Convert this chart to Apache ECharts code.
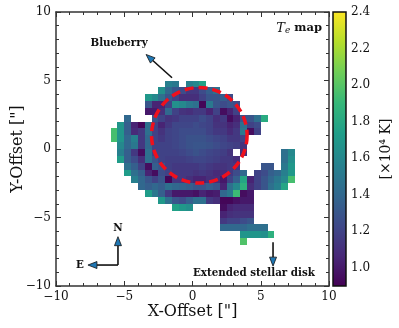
<!DOCTYPE html>
<html>
<head>
<meta charset="utf-8">
<style>html,body{margin:0;padding:0;background:#fff}#chart{width:399px;height:328px}</style>
<script src="https://cdn.jsdelivr.net/npm/echarts@6/dist/echarts.min.js"></script>
</head>
<body>
<div id="chart"></div>
<script>
// Te map, cells are 0.5" wide. Each row: y centre, left edge of first cell, temperatures
const n = null
const rowY = [4.75, 4.25, 3.75, 3.25, 2.75, 2.25, 1.75, 1.25, 0.75, 0.25, -0.25, -0.75, -1.25, -1.75, -2.25, -2.75, -3.25, -3.75, -4.25, -4.75, -5.25, -5.75, -6.25, -6.75]
const rowStart = [-2, -2.5, -3.5, -3.5, -3.5, -5, -5.5, -6, -6, -5.5, -5.5, -5.5, -5, -5, -4.5, -4, -3.5, -2.5, -1.5, 2, 2, 2, 3.5, 3.5]
const rowTemps = [
  [1.55, 1.5, n, 1.55, 1.6, 1.75],
  [1.65, 1.4, 1.3, 1.25, 1.15, 1.15, 1.25, 1.35, 1.45],
  [1.7, 1.6, 1.45, 1.3, 1.2, 1.1, 1.1, 1.1, 1.2, 1.3, 1.3, 1.35, 1.25],
  [1.3, 1.05, 1.05, 1.2, 1.65, 1.6, 1.5, 1.45, 0.92, 1.5, 1.3, 1.25, 1.3, 1.25],
  [1.0, 1.0, 1.1, 1.4, 1.2, 1.12, 1.1, 1.15, 1.15, 1.05, 1.2, 0.95, 1.05, 1.2],
  [1.4, n, n, n, 1.3, 1.2, 1.12, 1.15, 1.2, 1.2, 1.2, 1.25, 1.2, 1.1, 1.15, 0.95, 1.05, 1.3, 1.3, 1.45, 1.82],
  [1.68, 1.35, 1.05, 0.92, 1.45, 1.2, 1.05, 1.15, 1.22, 1.22, 1.22, 1.25, 1.22, 1.2, 1.12, 1.12, 1.05, 1.1, 1.45, 1.2, 1.25],
  [1.95, 1.68, 1.35, 1.08, 1.15, 1.45, 1.2, 1.12, 1.2, 1.22, 1.25, 1.25, 1.25, 1.25, 1.2, 1.15, 1.15, 1.08, 1.15, 1.5, 0.95, 1.2],
  [1.95, 1.68, 1.4, 1.55, 1.15, 1.4, 1.2, 1.15, 1.2, 1.22, 1.25, 1.28, 1.28, 1.28, 1.25, 1.22, 1.2, 1.15, 1.15, 1.2],
  [1.6, 1.4, 1.5, 1.15, 1.4, 1.2, 1.2, 1.2, 1.22, 1.25, 1.28, 1.3, 1.3, 1.28, 1.25, 1.22, 1.2, 1.18, 1.12],
  [1.55, 1.35, 1.15, 0.95, 1.45, 1.2, 1.2, 1.2, 1.2, 1.22, 1.25, 1.28, 1.25, 1.22, 1.2, 1.18, 1.12, n, 1.1, n, n, n, n, n, 1.45, 1.6],
  [1.72, 1.35, 1.25, 1.1, 1.45, 1.3, 1.2, 1.18, 1.18, 1.18, 1.2, 1.22, 1.22, 1.2, 1.18, 1.15, 1.15, 1.1, n, n, n, n, n, n, 1.45, 1.65],
  [1.45, 1.35, 1.2, 0.95, 1.35, 1.3, 1.18, 1.15, 1.15, 1.15, 1.15, 1.18, 1.15, 1.12, 1.12, 1.15, 1.15, n, n, n, 1.3, 1.3, n, 1.5, 1.7],
  [1.72, 1.45, 1.35, 1.05, 0.95, 1.25, 1.2, 1.15, 1.15, 1.15, 1.12, 1.15, 1.12, 1.08, 1.08, 1.15, 1.25, 1.4, n, 1.2, 1.25, 1.35, 1.4, 1.55, 1.7],
  [1.55, 1.4, 1.3, 1.2, 1.3, 0.92, 1.15, 1.15, 1.1, 1.05, 1.05, 1.1, 1.1, 1.0, 1.2, 1.35, 1.78, 1.05, 1.2, 1.3, 1.4, 1.5, 1.6, 1.95],
  [1.4, 1.35, 1.4, 1.35, 1.45, 1.4, 1.38, 1.35, 1.3, 1.3, 1.35, 1.3, 1.05, 1.45, 1.6, 1.85, 1.1, 1.2, 1.3, 1.45, 1.55, 1.78],
  [1.72, 1.5, 1.35, 1.15, 1.0, 1.0, 1.0, 0.97, 1.05, 1.0, 1.02, 1.4, 1.5, 1.92, 0.95, 1.0],
  [1.7, 1.45, 1.3, 1.25, 1.35, 1.45, 1.45, 1.15, 1.1, 0.92, 0.92, 0.97, 1.0, 1.0],
  [1.75, 1.7, 1.65, n, n, n, n, 0.95, 1.05, 1.08, 1.08, 1.08],
  [1.05, 1.1, 1.12, 1.12, 1.12],
  [1.15, 1.2, 1.2, 1.25, 1.3],
  [1.4, 1.4, 1.4, 1.4, 1.45, 1.45, 1.45],
  [1.68, 1.68, 1.68, 1.65, 1.85],
  [1.98]
]
const cellSize = 0.5

const viridis = ['#440154', '#482878', '#3e4989', '#31688e', '#26828e', '#1f9e89', '#35b779', '#6ece58', '#b5de2b', '#fde725']
const tempMin = 0.9
const tempMax = 2.4
const barTicks = [1.0, 1.2, 1.4, 1.6, 1.8, 2.0, 2.2, 2.4]

// x, y, radius of the dashed circle
const blueberry = [0.5, 1, 3.5]
// tail x, tail y, tip x, tip y
const arrows = [
  [-1.5, 5.2, -3.4, 6.9],
  [-5.46, -8.47, -5.46, -6.4],
  [-5.46, -8.47, -7.66, -8.47],
  [5.9, -6.8, 5.9, -8.55]
]
// x, y, text
const notes = [
  [-5.38, 7.74, 'Blueberry'],
  [-5.46, -5.77, 'N'],
  [-8.24, -8.47, 'E'],
  [4.5, -9.05, 'Extended stellar disk']
]

const serif = 'DejaVu Serif'
const cells = []
rowTemps.forEach((row, i) => {
  row.forEach((t, j) => {
    if (t !== n) cells.push([rowStart[i] + j * cellSize + cellSize / 2, rowY[i], t])
  })
})

function renderCell(params, api) {
  const x = api.value(0)
  const y = api.value(1)
  const a = api.coord([x - cellSize / 2, y + cellSize / 2])
  const b = api.coord([x + cellSize / 2, y - cellSize / 2])
  const left = Math.round(a[0])
  const top = Math.round(a[1])
  return {
    type: 'rect',
    shape: { x: left, y: top, width: Math.round(b[0]) - left, height: Math.round(b[1]) - top },
    style: { fill: api.visual('color') }
  }
}

function renderCircle(params, api) {
  const c = api.coord([api.value(0), api.value(1)])
  const r = api.size([api.value(2), 0])[0]
  return {
    type: 'circle',
    shape: { cx: c[0], cy: c[1], r: r },
    style: { fill: 'none', stroke: '#f0101c', lineWidth: 3.5, lineDash: [9, 5] }
  }
}

function renderArrow(params, api) {
  const p0 = api.coord([api.value(0), api.value(1)])
  const p1 = api.coord([api.value(2), api.value(3)])
  const dx = p1[0] - p0[0]
  const dy = p1[1] - p0[1]
  const len = Math.sqrt(dx * dx + dy * dy)
  const ux = dx / len
  const uy = dy / len
  const bx = p1[0] - ux * 9
  const by = p1[1] - uy * 9
  return {
    type: 'group',
    children: [
      { type: 'line', shape: { x1: p0[0], y1: p0[1], x2: bx, y2: by }, style: { stroke: '#111', lineWidth: 1.6 } },
      {
        type: 'polygon',
        shape: { points: [p1, [bx - uy * 3.5, by + ux * 3.5], [bx + uy * 3.5, by - ux * 3.5]] },
        style: { fill: '#1f77b4', stroke: '#111', lineWidth: 0.8 }
      }
    ]
  }
}

function renderNote(params, api) {
  const c = api.coord([api.value(0), api.value(1)])
  return {
    type: 'text',
    x: c[0],
    y: c[1],
    style: {
      text: api.value(2),
      font: 'bold 10.3px "DejaVu Serif"',
      fill: '#111',
      align: 'center',
      verticalAlign: 'middle'
    }
  }
}

function renderBar(params, api) {
  const a = api.coord([0, tempMax])
  const b = api.coord([1, tempMin])
  return {
    type: 'rect',
    shape: { x: a[0], y: a[1], width: b[0] - a[0], height: b[1] - a[1] },
    style: {
      fill: new echarts.graphic.LinearGradient(0, 1, 0, 0, viridis.map((c, i) => ({ offset: i / (viridis.length - 1), color: c }))),
      stroke: '#111',
      lineWidth: 1.5
    }
  }
}

function boxAxis(position, name, show) {
  return {
    type: 'value',
    position: position,
    min: -10,
    max: 10,
    interval: 5,
    name: name,
    nameLocation: 'middle',
    nameGap: position === 'left' ? 30 : 18,
    nameMoveOverlap: false,
    nameTextStyle: { fontFamily: serif, fontSize: 16, color: '#111' },
    axisLine: { show: true, onZero: false, lineStyle: { color: '#333', width: 1.5 } },
    axisTick: { show: true, inside: true, length: 5, lineStyle: { color: '#333', width: 1 } },
    minorTick: { show: true, splitNumber: 5, length: 3, lineStyle: { color: '#333', width: 1 } },
    splitLine: { show: false },
    minorSplitLine: { show: false },
    axisLabel: {
      show: show,
      margin: 5,
      fontFamily: serif,
      fontSize: 12,
      color: '#111',
      formatter: v => String(v).replace('-', '\u2212')
    }
  }
}

const chart = echarts.init(document.getElementById('chart'), null, { renderer: 'canvas' })
chart.setOption({
  animation: false,
  backgroundColor: '#fff',
  grid: [
    { left: 56, top: 12, width: 273, height: 274, outerBoundsMode: 'none' },
    { left: 333, top: 12, width: 13, height: 274, outerBoundsMode: 'none' }
  ],
  xAxis: [
    boxAxis('bottom', 'X-Offset ["]', true),
    boxAxis('top', '', false),
    { type: 'value', gridIndex: 1, min: 0, max: 1, show: false }
  ],
  yAxis: [
    boxAxis('left', 'Y-Offset ["]', true),
    boxAxis('right', '', false),
    {
      type: 'value',
      gridIndex: 1,
      position: 'right',
      min: tempMin,
      max: tempMax,
      name: '[\u00d710\u2074 K]',
      nameLocation: 'middle',
      nameRotate: 90,
      nameGap: 33,
      nameMoveOverlap: false,
      nameTextStyle: { fontFamily: serif, fontSize: 14, color: '#111' },
      splitLine: { show: false },
      axisLine: { show: false },
      axisTick: { show: true, length: 3, customValues: barTicks, lineStyle: { color: '#333', width: 1 } },
      axisLabel: {
        margin: 5,
        fontFamily: serif,
        fontSize: 12,
        color: '#111',
        customValues: barTicks,
        formatter: v => v.toFixed(1)
      }
    }
  ],
  visualMap: {
    show: false,
    seriesIndex: 0,
    dimension: 2,
    min: tempMin,
    max: tempMax,
    inRange: { color: viridis }
  },
  series: [
    { type: 'custom', xAxisIndex: 0, yAxisIndex: 0, data: cells, encode: { x: 0, y: 1 }, renderItem: renderCell, z: 2 },
    { type: 'custom', xAxisIndex: 0, yAxisIndex: 0, data: [blueberry], renderItem: renderCircle, z: 3 },
    { type: 'custom', xAxisIndex: 0, yAxisIndex: 0, data: arrows, renderItem: renderArrow, z: 4 },
    { type: 'custom', xAxisIndex: 0, yAxisIndex: 0, data: notes, renderItem: renderNote, z: 4 },
    { type: 'custom', xAxisIndex: 2, yAxisIndex: 2, data: [[0, tempMin]], renderItem: renderBar, z: 2 }
  ],
  graphic: [
    {
      type: 'text',
      right: 77,
      top: 22,
      style: {
        rich: {
          t: { font: 'italic 13px "DejaVu Serif"', fill: '#111' },
          s: { font: 'italic 9px "DejaVu Serif"', fill: '#111', verticalAlign: 'bottom', padding: [4, 0, 0, 0] },
          b: { font: 'bold 11.5px "DejaVu Serif"', fill: '#111' }
        },
        text: '{t|T}{s|e}{b| map}'
      }
    }
  ]
})
</script>
</body>
</html>
